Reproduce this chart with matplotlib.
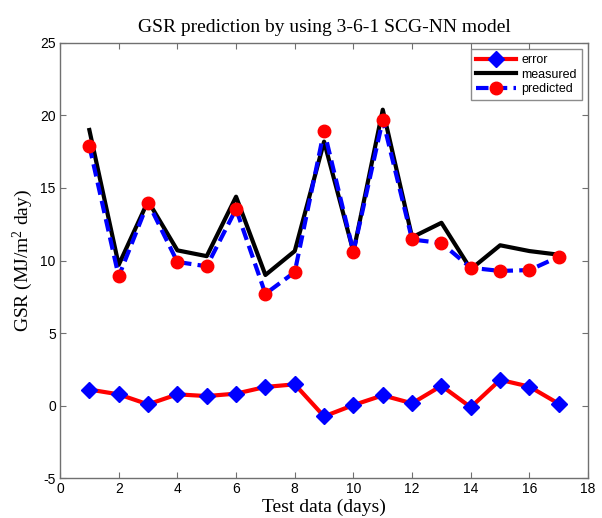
import matplotlib
matplotlib.use("Agg")
import matplotlib.pyplot as plt
import numpy as np

plt.rcParams['mathtext.fontset'] = 'custom'
plt.rcParams['mathtext.rm'] = 'Liberation Serif'
plt.rcParams['mathtext.it'] = 'Liberation Serif:italic'
plt.rcParams['mathtext.bf'] = 'Liberation Serif:bold'
plt.rcParams['mathtext.default'] = 'rm'

days = [1, 2, 3, 4, 5, 6, 7, 8, 9, 10, 11, 12, 13, 14, 15, 16, 17]
measured = [19.0, 9.7, 14.1, 10.7, 10.3, 14.4, 9.0, 10.65, 18.2, 10.6, 20.4, 11.6, 12.6, 9.4, 11.05, 10.65, 10.4]
predicted = [17.9, 8.9, 14.0, 9.9, 9.6, 13.55, 7.7, 9.2, 18.95, 10.6, 19.7, 11.45, 11.2, 9.5, 9.28, 9.34, 10.26]
error = [1.1, 0.77, 0.08, 0.77, 0.65, 0.82, 1.28, 1.46, -0.75, 0.03, 0.7, 0.15, 1.36, -0.12, 1.77, 1.3, 0.12]

xticks = [0, 2, 4, 6, 8, 10, 12, 14, 16, 18]
yticks = [-5, 0, 5, 10, 15, 20, 25]

fig = plt.figure(figsize=(6.02, 5.18), dpi=100)
ax = fig.add_axes([0.0997, 0.0772, 0.8773, 0.8398])

ax.plot(days, error, color='red', lw=3, marker='D', markersize=8,
        markerfacecolor='blue', markeredgecolor='blue', label='error', zorder=3)
ax.plot(days, measured, color='black', lw=3, label='measured', zorder=3)
ax.plot(days, predicted, color='blue', lw=3, ls=(0, (3, 1.5)), marker='o', markersize=9,
        markerfacecolor='red', markeredgecolor='red', label='predicted', zorder=4)

ax.set_xlim(0, 18)
ax.set_ylim(-5, 25)
ax.set_xticks(xticks)
ax.set_yticks(yticks)
ax.set_xticklabels([str(t) for t in xticks], fontfamily='Liberation Sans', fontsize=10)
ax.set_yticklabels([str(t) for t in yticks], fontfamily='Liberation Sans', fontsize=10)
ax.tick_params(direction='in', top=True, right=True, length=4, color='#707070', pad=3)
for s in ax.spines.values():
    s.set_color('#707070')
    s.set_linewidth(1.0)

ax.set_title('GSR prediction by using 3-6-1 SCG-NN model', fontfamily='Liberation Serif',
             fontsize=14, pad=8)
ax.set_xlabel('Test data (days)', fontfamily='Liberation Serif', fontsize=14, labelpad=2)
ax.set_ylabel('GSR (MJ/m$^2$ day)', fontfamily='Liberation Serif', fontsize=14, labelpad=4)

leg = ax.legend(loc='upper right', prop={'family': 'Liberation Sans', 'size': 9},
                frameon=True, fancybox=False, edgecolor='#707070', handlelength=3.2,
                borderaxespad=0.5, labelspacing=0.2, borderpad=0.4, handletextpad=0.4)
leg.get_frame().set_linewidth(1.0)

fig.savefig('out.png', dpi=100, facecolor='white')
